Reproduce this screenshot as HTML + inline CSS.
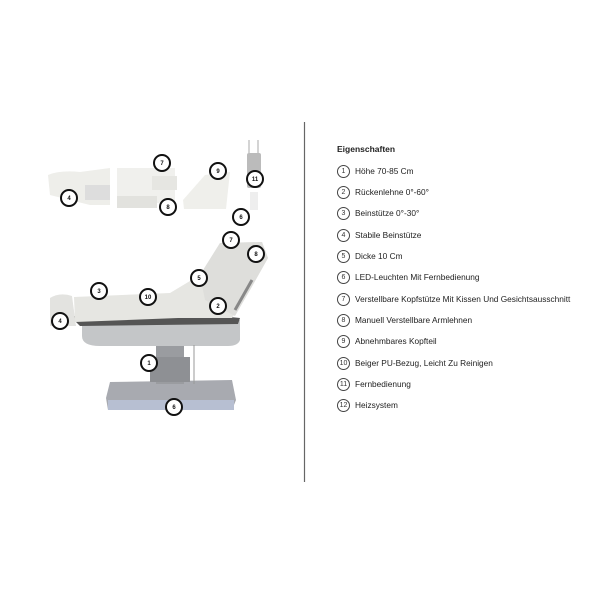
<!DOCTYPE html>
<html><head><style>
html,body{margin:0;padding:0;background:#fff;}
body{width:600px;height:600px;position:relative;overflow:hidden;font-family:"Liberation Sans",sans-serif;}
.t{position:absolute;left:355px;font-size:8.3px;color:#222;}
.c{position:absolute;left:337px;width:11px;height:11px;border:1px solid #444;border-radius:50%;font-size:7px;text-align:center;line-height:11px;color:#333;}
</style></head><body>
<svg width="600" height="600" style="position:absolute;left:0;top:0">
<line x1="304.5" y1="122" x2="304.5" y2="482" stroke="#666" stroke-width="1.2"/>
<!-- top small images -->
<path d="M48 175 Q60 170 80 172 L110 168 L110 205 L90 205 Q70 200 50 195 Z" fill="#eeeeea"/>
<rect x="85" y="185" width="25" height="15" fill="#ddd"/>
<rect x="117" y="168" width="58" height="35" fill="#f0f0ed"/>
<rect x="152" y="176" width="25" height="14" fill="#e6e6e2"/>
<rect x="117" y="196" width="40" height="12" fill="#e2e2de"/>
<path d="M183 200 L205 175 L230 172 L226 209 L184 209 Z" fill="#efefeb"/>
<rect x="247" y="153" width="14" height="35" rx="2" fill="#bbb"/>
<rect x="250" y="192" width="8" height="18" fill="#eee"/>
<line x1="249" y1="140" x2="249" y2="153" stroke="#aaa"/><line x1="258" y1="140" x2="258" y2="153" stroke="#aaa"/>
<!-- chair -->
<path d="M110 382 L232 380 L236 400 L232 410 L108 410 L106 398 Z" fill="#a8aab0"/>
<rect x="108" y="400" width="126" height="10" fill="#b7bfd2"/>
<rect x="156" y="342" width="28" height="42" fill="#9a9ca0"/>
<rect x="150" y="357" width="40" height="25" fill="#8e9094"/>
<path d="M82 323 L240 320 L240 340 Q238 346 228 346 L100 346 Q82 346 82 336 Z" fill="#c4c6c8"/>
<path d="M70 316 L220 316 L240 318 L238 324 L80 326 Z" fill="#555"/>
<path d="M74 297 L170 293 L200 275 L220 243 L262 242 L268 258 L250 290 L232 318 L178 318 L75 322 Z" fill="#e6e6e2"/>
<path d="M200 275 L220 243 L262 242 L268 258 L250 290 L235 316 L205 300 Z" fill="#dededb"/>
<path d="M50 298 Q60 292 72 296 L76 326 L50 326 Z" fill="#e3e3e0"/>
<line x1="235" y1="310" x2="252" y2="280" stroke="#888" stroke-width="3"/>
<line x1="194" y1="345" x2="194" y2="384" stroke="#999" stroke-width="1"/>
<g fill="#fff" stroke="#111" stroke-width="2" font-size="6" font-family="Liberation Sans" text-anchor="middle">
<circle cx="69" cy="198" r="8"/><circle cx="162" cy="163" r="8"/><circle cx="168" cy="207" r="8"/>
<circle cx="218" cy="171" r="8"/><circle cx="255" cy="179" r="8"/><circle cx="241" cy="217" r="8"/>
<circle cx="231" cy="240" r="8"/><circle cx="256" cy="254" r="8"/><circle cx="199" cy="278" r="8"/>
<circle cx="99" cy="291" r="8"/><circle cx="148" cy="297" r="8"/><circle cx="218" cy="306" r="8"/>
<circle cx="60" cy="321" r="8"/><circle cx="149" cy="363" r="8"/><circle cx="174" cy="407" r="8"/>
</g>
<g font-size="6" font-family="Liberation Sans" text-anchor="middle" fill="#111" font-weight="bold">
<text x="69" y="200">4</text><text x="162" y="165">7</text><text x="168" y="209">8</text>
<text x="218" y="173">9</text><text x="255" y="181">11</text><text x="241" y="219">6</text>
<text x="231" y="242">7</text><text x="256" y="256">8</text><text x="199" y="280">5</text>
<text x="99" y="293">3</text><text x="148" y="299">10</text><text x="218" y="308">2</text>
<text x="60" y="323">4</text><text x="149" y="365">1</text><text x="174" y="409">6</text>
</g>
</svg>
<div class="t" style="left:337px;top:144px;font-weight:bold;font-size:8.5px">Eigenschaften</div>
<div class="c" style="top:165px">1</div><div class="t" style="top:166px">Höhe 70-85 Cm</div>
<div class="c" style="top:186px">2</div><div class="t" style="top:187px">Rückenlehne 0°-60°</div>
<div class="c" style="top:207px">3</div><div class="t" style="top:208px">Beinstütze 0°-30°</div>
<div class="c" style="top:229px">4</div><div class="t" style="top:230px">Stabile Beinstütze</div>
<div class="c" style="top:250px">5</div><div class="t" style="top:251px">Dicke 10 Cm</div>
<div class="c" style="top:271px">6</div><div class="t" style="top:272px">LED-Leuchten Mit Fernbedienung</div>
<div class="c" style="top:293px">7</div><div class="t" style="top:294px">Verstellbare Kopfstütze Mit Kissen Und Gesichtsausschnitt</div>
<div class="c" style="top:314px">8</div><div class="t" style="top:315px">Manuell Verstellbare Armlehnen</div>
<div class="c" style="top:335px">9</div><div class="t" style="top:336px">Abnehmbares Kopfteil</div>
<div class="c" style="top:357px">10</div><div class="t" style="top:358px">Beiger PU-Bezug, Leicht Zu Reinigen</div>
<div class="c" style="top:378px">11</div><div class="t" style="top:379px">Fernbedienung</div>
<div class="c" style="top:399px">12</div><div class="t" style="top:400px">Heizsystem</div>
</body></html>
